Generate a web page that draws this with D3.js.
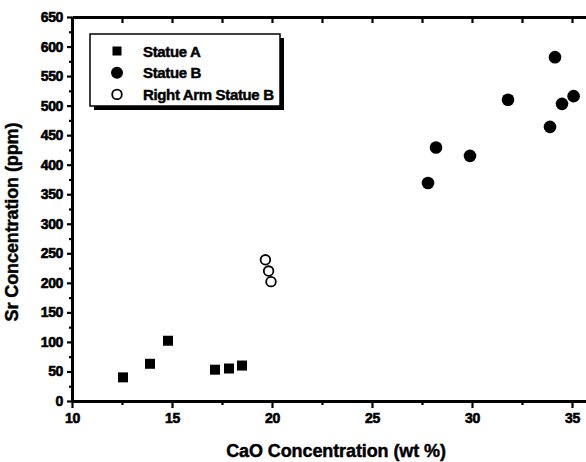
<!DOCTYPE html>
<html>
<head>
	<script type="text/javascript" src="https://cdn.jsdelivr.net/npm/d3@7/dist/d3.min.js"></script>
	<style>
		body { margin: 0; background: #fff; }
		text { font-family: "Liberation Sans", Arial, sans-serif; font-weight: bold; stroke: #000; stroke-width: 0.45px; }
	</style>
</head>
<body>
	<script type="text/javascript">

		// data (CaO wt %, Sr ppm)
		var statueA_cao = [12.55, 13.9, 14.8, 17.15, 17.85, 18.5];
		var statueA_sr = [40, 63, 102, 53, 55, 60];

		var statueB_cao = [27.8, 28.2, 29.9, 31.8, 33.9, 34.15, 34.5, 35.08];
		var statueB_sr = [369, 429, 415, 510, 464, 582, 503, 516];

		var armB_cao = [19.67, 19.83, 19.95];
		var armB_sr = [239, 220, 202];

		var seriesNames = ['Statue A', 'Statue B', 'Right Arm Statue B'];
		var xTicks = [10, 15, 20, 25, 30, 35];
		var yTicks = d3.range(0, 651, 50);

		function pairs(xs, ys) {
			return xs.map(function(x, i) { return {x: x, y: ys[i]}; });
		}

		// canvas params
		var margin = {top: 17, left: 72, right: 0, bottom: 61};
		var width = 520;
		var height = 384;

		var xScale = d3.scaleLinear().domain([10, 36]).range([0, width]);
		var yScale = d3.scaleLinear().domain([0, 650]).range([height, 0]);

		var svg = d3.select('body')
			.append('svg')
			.attr('width', 586)
			.attr('height', 462);

		var g = svg.append('g')
			.attr('transform', 'translate(' + margin.left + ',' + margin.top + ')');

		var minorX = d3.range(12.5, 36, 5);
		var minorY = d3.range(25, 650, 50);

		// minor ticks first
		g.append('g')
			.attr('class', 'minor')
			.attr('transform', 'translate(0,' + height + ')')
			.call(d3.axisBottom(xScale).tickValues(minorX).tickSize(4).tickFormat(''));
		g.append('g')
			.attr('class', 'minor')
			.call(d3.axisLeft(yScale).tickValues(minorY).tickSize(3).tickFormat(''));

		// major axes
		g.append('g')
			.attr('class', 'x-axis')
			.attr('transform', 'translate(0,' + height + ')')
			.call(d3.axisBottom(xScale).tickValues(xTicks).tickSize(7).tickSizeOuter(0).tickPadding(5));

		g.append('g')
			.attr('class', 'y-axis')
			.call(d3.axisLeft(yScale).tickValues(yTicks).tickSize(5).tickSizeOuter(0).tickPadding(4));

		g.append('g')
			.attr('class', 'top-axis')
			.call(d3.axisTop(xScale).tickValues(xTicks.concat(minorX)).tickSize(-6).tickSizeOuter(0).tickFormat(''));

		g.append('g')
			.attr('class', 'right-axis')
			.attr('transform', 'translate(' + width + ',0)')
			.call(d3.axisRight(yScale).tickValues(yTicks).tickSize(-6).tickSizeOuter(0).tickFormat(''));

		g.selectAll('.domain').attr('stroke', '#000').attr('stroke-width', 3);
		g.selectAll('.tick line').attr('stroke', '#000').attr('stroke-width', 2.2);
		g.selectAll('.minor .domain').remove();
		g.selectAll('.x-axis, .y-axis')
			.attr('font-family', null)
			.attr('font-size', null);
		g.selectAll('.tick text')
			.attr('fill', '#000')
			.style('font-family', '"Liberation Sans", Arial, sans-serif')
			.style('font-weight', 'bold')
			.style('font-size', '14px')
			.style('stroke', '#000')
			.style('stroke-width', '0.6px')
			.style('letter-spacing', '-0.4px');

		// points
		g.selectAll('rect.a')
			.data(pairs(statueA_cao, statueA_sr))
			.enter()
			.append('rect')
			.attr('class', 'a')
			.attr('x', function(d) { return xScale(d.x) - 5; })
			.attr('y', function(d) { return yScale(d.y) - 5; })
			.attr('width', 10)
			.attr('height', 10)
			.attr('fill', '#000');

		g.selectAll('circle.b')
			.data(pairs(statueB_cao, statueB_sr))
			.enter()
			.append('circle')
			.attr('class', 'b')
			.attr('cx', function(d) { return xScale(d.x); })
			.attr('cy', function(d) { return yScale(d.y); })
			.attr('r', 6.3)
			.attr('fill', '#000');

		g.selectAll('circle.arm')
			.data(pairs(armB_cao, armB_sr))
			.enter()
			.append('circle')
			.attr('class', 'arm')
			.attr('cx', function(d) { return xScale(d.x); })
			.attr('cy', function(d) { return yScale(d.y); })
			.attr('r', 4.8)
			.attr('fill', '#fff')
			.attr('stroke', '#000')
			.attr('stroke-width', 1.8);

		// legend
		var legend = svg.append('g').attr('transform', 'translate(90,34)');
		legend.append('rect')
			.attr('x', 4).attr('y', 4)
			.attr('width', 190).attr('height', 72)
			.attr('fill', '#000');
		legend.append('rect')
			.attr('width', 190).attr('height', 72)
			.attr('fill', '#fff')
			.attr('stroke', '#000')
			.attr('stroke-width', 1.5);

		var rows = legend.selectAll('g.row')
			.data(seriesNames)
			.enter()
			.append('g')
			.attr('class', 'row')
			.attr('transform', function(d, i) { return 'translate(0,' + (17 + i * 21.7) + ')'; });

		rows.each(function(d, i) {
			var r = d3.select(this);
			if (i === 0) {
				r.append('rect').attr('x', 22.5).attr('y', -4.5).attr('width', 9).attr('height', 9).attr('fill', '#000');
			} else if (i === 1) {
				r.append('circle').attr('cx', 27).attr('cy', 0).attr('r', 6).attr('fill', '#000');
			} else {
				r.append('circle').attr('cx', 27).attr('cy', 0).attr('r', 4.8)
					.attr('fill', '#fff').attr('stroke', '#000').attr('stroke-width', 1.8);
			}
			r.append('text')
				.attr('x', 53)
				.attr('y', 5.5)
				.style('font-size', '15px')
				.style('letter-spacing', '-0.35px')
				.text(d);
		});

		// axis titles
		svg.append('text')
			.attr('x', margin.left + xScale(23.2))
			.attr('y', 457)
			.attr('text-anchor', 'middle')
			.style('font-size', '18px')
			.style('letter-spacing', '-0.1px')
			.text('CaO Concentration (wt %)');

		svg.append('text')
			.attr('transform', 'translate(18,' + 222 + ') rotate(-90)')
			.attr('text-anchor', 'middle')
			.style('font-size', '18px')
			.style('letter-spacing', '-0.1px')
			.text('Sr Concentration (ppm)');

	</script>
</body>
</html>
